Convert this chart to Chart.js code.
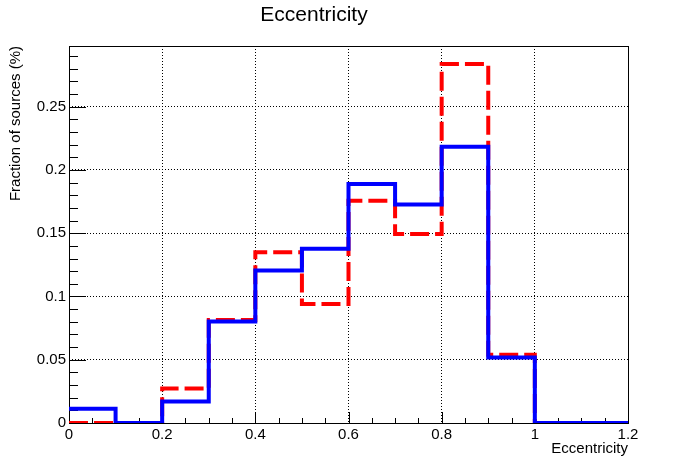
<!DOCTYPE html>
<html>
<head>
<meta charset="utf-8">
<script src="https://cdn.jsdelivr.net/npm/chart.js@4"></script>
<style>
  body { margin: 0; background: #fff; }
</style>
</head>
<body>
<canvas id="ecc" width="698" height="471"></canvas>
<script>
// bin edges and per-bin fractions
const binEdges = [0, 0.1, 0.2, 0.3, 0.4, 0.5, 0.6, 0.7, 0.8, 0.9, 1.0, 1.1, 1.2];
const seriesBlue = [0.0113, 0, 0.0169, 0.0802, 0.1205, 0.1377, 0.189, 0.1727, 0.2184, 0.0517, 0, 0];
const seriesRed  = [0, 0, 0.0272, 0.0815, 0.135, 0.0941, 0.1756, 0.1493, 0.2838, 0.054, 0, 0];
const xTicks = [0, 0.2, 0.4, 0.6, 0.8, 1, 1.2];
const yTicks = [0, 0.05, 0.1, 0.15, 0.2, 0.25];

// histogram outline: one point per bin edge, last bin carried to the end
function steps(vals) {
  const pts = vals.map((v, i) => ({ x: binEdges[i], y: v }));
  pts.push({ x: binEdges[binEdges.length - 1], y: vals[vals.length - 1] });
  return pts;
}

Chart.defaults.font.family = "'Liberation Sans', Arial, sans-serif";
Chart.defaults.color = '#000';

// ROOT-style frame and inner tick marks
const frame = {
  id: 'frame',
  beforeDatasetsDraw(chart) {
    const { ctx, chartArea: a, scales: { x, y } } = chart;
    ctx.save();
    ctx.strokeStyle = '#000';
    ctx.lineWidth = 1;
    ctx.strokeRect(Math.round(a.left) + 0.5, Math.round(a.top) + 0.5,
      Math.round(a.right - a.left), Math.round(a.bottom - a.top));
    ctx.beginPath();
    for (let i = 1; i <= 29; i++) {
      const py = Math.round(y.getPixelForValue(i / 100)) + 0.5;
      const len = i % 5 === 0 ? 17 : 9;
      ctx.moveTo(a.left, py);
      ctx.lineTo(a.left + len, py);
    }
    for (let i = 1; i < 24; i++) {
      const px = Math.round(x.getPixelForValue(i * 0.05)) + 0.5;
      const len = i % 4 === 0 ? 11 : 5;
      ctx.moveTo(px, a.bottom);
      ctx.lineTo(px, a.bottom - len);
    }
    ctx.stroke();
    ctx.restore();
  }
};

new Chart(document.getElementById('ecc'), {
  type: 'line',
  data: {
    datasets: [{
      data: steps(seriesBlue),
      borderColor: '#0000ff',
      borderWidth: 4,
      stepped: true,
      pointRadius: 0,
      borderJoinStyle: 'miter'
    }, {
      data: steps(seriesRed),
      borderColor: '#ff0000',
      borderWidth: 4,
      borderDash: [19, 6],
      stepped: true,
      pointRadius: 0,
      borderJoinStyle: 'miter'
    }]
  },
  options: {
    responsive: false,
    animation: false,
    layout: { padding: { left: 0, right: 70, top: 0, bottom: 0 } },
    plugins: {
      legend: { display: false },
      tooltip: { enabled: false },
      title: {
        display: true,
        text: 'Eccentricity',
        font: { size: 21, weight: 'normal' },
        padding: { top: 2.4, bottom: 18.4 }
      }
    },
    scales: {
      x: {
        type: 'linear',
        min: 0,
        max: 1.2,
        afterBuildTicks: s => { s.ticks = xTicks.map(v => ({ value: v })); },
        afterFit: s => { s.height = 48; },
        ticks: { font: { size: 15 }, padding: 3, maxRotation: 0, callback: v => String(v) },
        grid: { color: '#000', lineWidth: 1, drawTicks: false },
        border: { display: false, dash: [1, 2] },
        title: {
          display: true, text: 'Eccentricity', align: 'end',
          font: { size: 15 }, padding: { top: 0, bottom: 13 }
        }
      },
      y: {
        min: 0,
        max: 0.298,
        afterBuildTicks: s => { s.ticks = yTicks.map(v => ({ value: v })); },
        afterFit: s => { s.width = 69; },
        ticks: { font: { size: 15 }, padding: 3, callback: v => String(v) },
        grid: { color: '#000', lineWidth: 1, drawTicks: false },
        border: { display: false, dash: [1, 2] },
        title: {
          display: true, text: 'Fraction of sources (%)', align: 'end',
          font: { size: 15 }, padding: { top: 7, bottom: 0 }
        }
      }
    }
  },
  plugins: [frame]
});
</script>
</body>
</html>
